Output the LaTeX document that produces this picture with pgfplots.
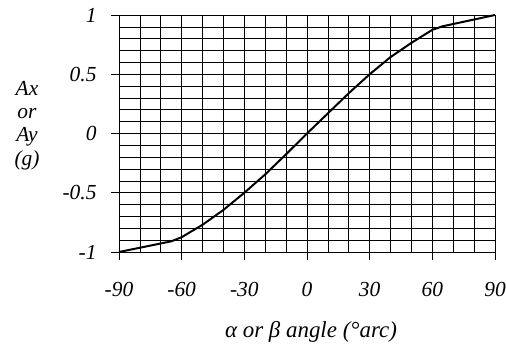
\documentclass[border=0pt]{standalone}
\usepackage{fontspec}
\setmainfont{Liberation Serif}
\usepackage{pgfplots}
\pgfplotsset{compat=1.18}

\pgfplotstableread{
x y
-90 -1
-65 -0.91
-60 -0.875
-50 -0.77
-40 -0.645
-30 -0.5
-20 -0.345
-10 -0.175
0 0
10 0.17
20 0.34
30 0.5
40 0.645
45 0.705
50 0.765
60 0.875
65 0.905
90 1
}\curve

\begin{document}
\begin{tikzpicture}
\begin{axis}[scale only axis,width=376bp,height=237bp,
  xmin=-90,xmax=90,ymin=-1,ymax=1,
  xtick={-90,-60,...,90},xticklabels={-90,-60,-30,0,30,60,90},
  ytick={-1,-0.5,0,0.5,1},yticklabels={-1,-0.5,0,0.5,1},
  minor xtick={-80,-70,...,80},
  minor ytick={-0.9,-0.8,-0.7,-0.6,-0.4,-0.3,-0.2,-0.1,0.1,0.2,0.3,0.4,0.6,0.7,0.8,0.9},
  grid=both,grid style={black,line width=0.7pt},
  minor grid style={black,line width=0.7pt},
  axis line style={black,line width=0.8pt},
  tick align=outside,major tick length=8bp,minor tick length=0pt,
  xtick pos=left,ytick pos=left,
  tick style={black,line width=0.7pt},
  ticklabel style={font=\fontsize{21.5}{25}\selectfont\itshape},
  xticklabel style={yshift=-19bp},
  yticklabel style={xshift=-11bp},
  xlabel={α or β angle (°arc)},
  every axis x label/.style={at={(axis description cs:0.5,0)},anchor=center,
    yshift=-80bp,xshift=4bp,font=\fontsize{23}{26}\selectfont\itshape},
  ylabel={Ax\\or\\Ay\\(g)},
  every axis y label/.style={at={(axis description cs:0,0.5)},anchor=center,
    xshift=-92bp,yshift=8bp,align=center,font=\fontsize{21.5}{23.5}\selectfont\itshape},
]
\addplot[black,line width=2pt,mark=none] table[x=x,y=y] {\curve};
\end{axis}
\pgfresetboundingbox
\path (current axis.south west) ++(-119bp,-93bp) coordinate (bl);
\path (current axis.north east) ++(11bp,15bp) coordinate (tr);
\useasboundingbox (bl) rectangle (tr);
\end{tikzpicture}
\end{document}
